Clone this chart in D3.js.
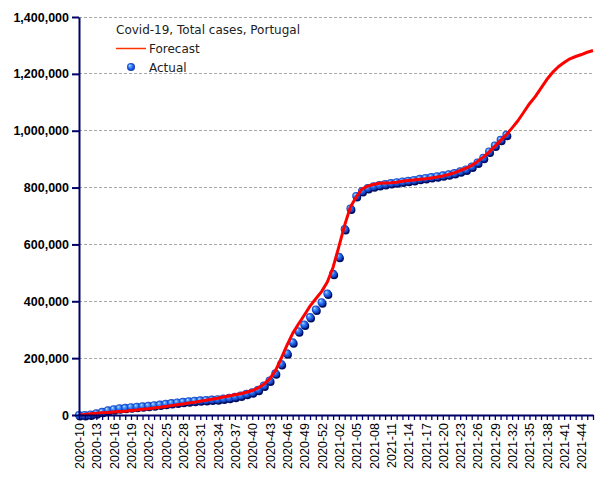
<!DOCTYPE html>
<html><head><meta charset="utf-8">
<script src="https://cdn.jsdelivr.net/npm/d3@7"></script>
<style>body{margin:0;background:#fff}svg{display:block}</style>
</head><body>
<svg id="chart" width="605" height="480"></svg>
<script>
const weeks = [
"2020-10","2020-11","2020-12","2020-13","2020-14","2020-15","2020-16","2020-17","2020-18","2020-19",
"2020-20","2020-21","2020-22","2020-23","2020-24","2020-25","2020-26","2020-27","2020-28","2020-29",
"2020-30","2020-31","2020-32","2020-33","2020-34","2020-35","2020-36","2020-37","2020-38","2020-39",
"2020-40","2020-41","2020-42","2020-43","2020-44","2020-45","2020-46","2020-47","2020-48","2020-49",
"2020-50","2020-51","2020-52","2020-53","2021-01","2021-02","2021-03","2021-04","2021-05","2021-06",
"2021-07","2021-08","2021-09","2021-10","2021-11","2021-12","2021-13","2021-14","2021-15","2021-16",
"2021-17","2021-18","2021-19","2021-20","2021-21","2021-22","2021-23","2021-24","2021-25","2021-26",
"2021-27","2021-28","2021-29","2021-30","2021-31","2021-32","2021-33","2021-34","2021-35","2021-36",
"2021-37","2021-38","2021-39","2021-40","2021-41","2021-42","2021-43","2021-44","2021-45","2021-46"];

const actual = [
30,250,2000,6000,11300,16600,20200,23900,25300,27600,
29200,30600,32500,34400,36500,39400,41900,44100,46500,48400,
50300,51700,52700,54100,55600,58000,60300,64600,68600,74700,
79900,89100,103700,121100,146800,179300,217300,256000,294800,318600,
344600,370800,396700,427300,496600,556500,653900,726300,770500,788300,
798100,805000,809000,813000,816000,819000,821500,824000,827000,831000,
834000,837000,840000,843000,846500,851000,857000,864000,874000,888000,
905000,927000,948000,968000,986000];

const forecast = [
0,2000,4000,6000,7500,9000,10500,12000,13500,15500,
17500,20000,22000,24500,27000,30000,33000,36000,39000,42000,
45000,48500,52000,55500,59000,63000,67000,71000,75000,80000,
86000,95000,108000,127000,155000,198000,245000,287000,320000,351000,
383000,409000,434000,468000,520000,592000,668000,732000,767000,795000,
805000,811000,815000,816000,817000,819000,822000,825000,827000,829000,
831000,834000,837000,841000,846000,852000,860000,868000,878000,892000,
907000,925000,945000,966000,986000,1010000,1035000,1065000,1095000,1120000,
1150000,1180000,1205000,1225000,1240000,1253000,1261000,1268000,1276000,1282000];

const yTicks = [0,200000,400000,600000,800000,1000000,1200000,1400000];
const title = "Covid-19, Total cases, Portugal";
const legendNames = ["Forecast","Actual"];

const svg = d3.select("#chart");
const mLeft = 79, mRight = 593, mTop = 17, mBottom = 415;

const x = d3.scalePoint().domain(weeks).range([mLeft, mRight]);
const y = d3.scaleLinear().domain([0, 1400000]).range([mBottom, mTop]);

// defs
const defs = svg.append("defs");
const g = defs.append("radialGradient").attr("id","ball")
  .attr("cx","50%").attr("cy","50%").attr("r","55%").attr("fx","33%").attr("fy","30%");
g.append("stop").attr("offset","0%").attr("stop-color","#d6f0ff");
g.append("stop").attr("offset","22%").attr("stop-color","#62a8ff");
g.append("stop").attr("offset","60%").attr("stop-color","#1f60e6");
g.append("stop").attr("offset","100%").attr("stop-color","#0a2a9e");

// gridlines
svg.append("g").selectAll("line").data(yTicks.filter(d => d > 0)).join("line")
  .attr("x1", mLeft).attr("x2", mRight)
  .attr("y1", d => y(d)).attr("y2", d => y(d))
  .attr("stroke", "#a8a8a8").attr("stroke-width", 1)
  .attr("stroke-dasharray", "3,2")
  .attr("shape-rendering","crispEdges");

// dots (shadow + ball)
const dotsG = svg.append("g");
dotsG.selectAll("circle.sh").data(actual).join("circle").attr("class","sh")
  .attr("cx", (d,i) => x(weeks[i]) + 1).attr("cy", d => y(d) + 1.5)
  .attr("r", 4).attr("fill", "#000d60");
dotsG.selectAll("circle.b").data(actual).join("circle").attr("class","b")
  .attr("cx", (d,i) => x(weeks[i])).attr("cy", d => y(d))
  .attr("r", 4).attr("fill", "url(#ball)");

// forecast line
const line = d3.line().x((d,i) => x(weeks[i])).y(d => y(d));
svg.append("path").datum(forecast)
  .attr("d", line).attr("fill","none")
  .attr("stroke","#ff0000").attr("stroke-width",3).attr("stroke-linejoin","round");

// y axis
const yAxis = svg.append("g").attr("transform", `translate(${mLeft},0)`)
  .call(d3.axisLeft(y).tickValues(yTicks).tickFormat(d3.format(",")).tickSize(7).tickSizeOuter(0).tickPadding(3));
yAxis.select(".domain").attr("stroke","#000066").attr("stroke-width",2);
yAxis.selectAll(".tick line").attr("stroke","#000066").attr("stroke-width",2);
yAxis.selectAll(".tick text").attr("fill","#000").style("font-family","'Liberation Sans', Arial, sans-serif")
  .style("font-size","12.5px").style("font-weight","bold");

// x axis
const xAxis = svg.append("g").attr("transform", `translate(0,${mBottom})`)
  .call(d3.axisBottom(x).tickSize(5).tickSizeOuter(0).tickFormat((d,i) => i % 3 === 0 ? d : ""));
xAxis.select(".domain").attr("stroke","#000066").attr("stroke-width",2);
xAxis.selectAll(".tick line").attr("stroke","#000066").attr("stroke-width",1.3);
xAxis.selectAll(".tick text")
  .attr("transform","rotate(-90)").attr("text-anchor","end")
  .attr("x",-8).attr("y",0).attr("dy","0.36em")
  .attr("fill","#000").style("font-family","'Liberation Sans', Arial, sans-serif").style("font-size","12.5px");

// legend
const lg = svg.append("g").style("font-family","'DejaVu Sans', Verdana, sans-serif").style("font-size","12px").attr("fill","#222");
lg.append("text").attr("x",116).attr("y",34).text(title);
lg.append("line").attr("x1",116).attr("x2",146).attr("y1",48.5).attr("y2",48.5)
  .attr("stroke","#ff3300").attr("stroke-width",1.5);
lg.append("text").attr("x",149).attr("y",53).text(legendNames[0]);
lg.append("circle").attr("cx",131).attr("cy",67).attr("r",4).attr("fill","url(#ball)");
lg.append("text").attr("x",149).attr("y",71.5).text(legendNames[1]);
</script>
</body></html>
